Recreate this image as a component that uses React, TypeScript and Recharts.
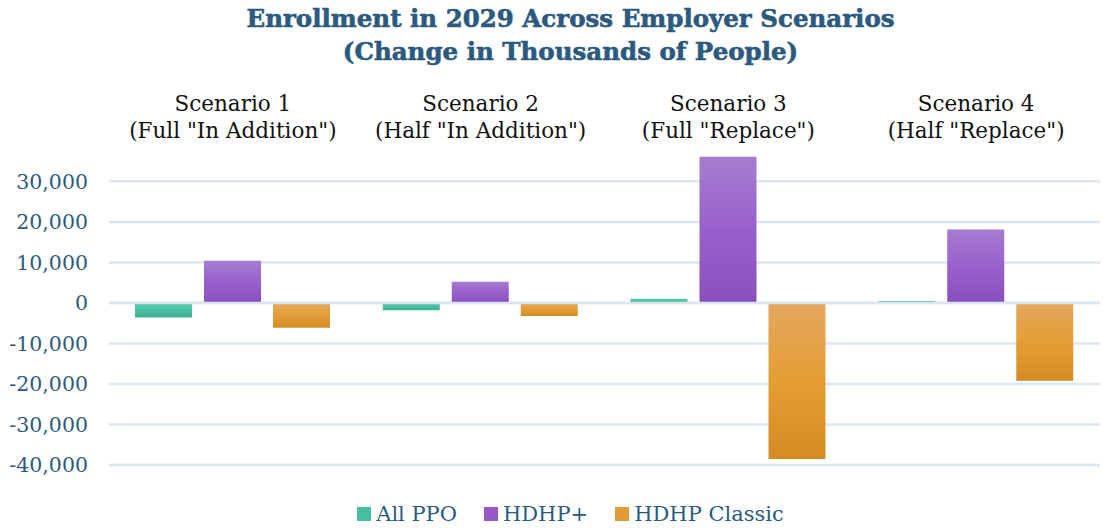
import { Bar, BarChart, CartesianGrid, ReferenceLine, XAxis, YAxis } from "recharts";

const NAVY = "#2C5A7E";
const GRID = "#DCE6F0";

const scenarios = ["Scenario 1", "Scenario 2", "Scenario 3", "Scenario 4"];
const subtitles = [
  '(Full "In Addition")',
  '(Half "In Addition")',
  '(Full "Replace")',
  '(Half "Replace")',
];
const allPpo = [-3600, -1800, 1000, 500];
const hdhpPlus = [10400, 5200, 36100, 18100];
const hdhpClassic = [-6100, -3200, -38500, -19200];
const yTicks = [-40000, -30000, -20000, -10000, 0, 10000, 20000, 30000];
const Y_MIN = -40000;
const Y_MAX = 37000;

const series = [
  { key: "allPpo", name: "All PPO", grad: "gTeal", swatch: "#47BE9F" },
  { key: "hdhpPlus", name: "HDHP+", grad: "gPurple", swatch: "#9558C6" },
  { key: "hdhpClassic", name: "HDHP Classic", grad: "gOrange", swatch: "#E39A34" },
];

const data = scenarios.map((s, i) => ({
  scenario: s,
  allPpo: allPpo[i],
  hdhpPlus: hdhpPlus[i],
  hdhpClassic: hdhpClassic[i],
}));

function ScenarioTick(props: any) {
  const { x, index } = props;
  const font = '"DejaVu Serif", serif';
  return (
    <g>
      <text x={x} y={111} textAnchor="middle" fontSize={21.5} fill="#111" fontFamily={font}>
        {scenarios[index]}
      </text>
      <text x={x} y={138} textAnchor="middle" fontSize={21.5} fill="#111" fontFamily={font}>
        {subtitles[index]}
      </text>
    </g>
  );
}

// grid only at the tick values, not at the plot's top edge
function gridRows({ offset }: any) {
  return yTicks.map(
    (t) => offset.top + ((Y_MAX - t) / (Y_MAX - Y_MIN)) * offset.height
  );
}

export default function App() {
  return (
    <div
      style={{
        position: "absolute",
        left: 0,
        top: 0,
        width: 1103,
        height: 529,
        background: "#fff",
        fontFamily: '"DejaVu Serif", serif',
      }}
    >
      <svg width={0} height={0} style={{ position: "absolute" }}>
        <defs>
          <linearGradient id="gTeal" x1="0" y1="0" x2="0" y2="1">
            <stop offset="0%" stopColor="#5ACBAE" />
            <stop offset="100%" stopColor="#3BB293" />
          </linearGradient>
          <linearGradient id="gPurple" x1="0" y1="0" x2="0" y2="1">
            <stop offset="0%" stopColor="#A67CD0" />
            <stop offset="50%" stopColor="#9960CC" />
            <stop offset="100%" stopColor="#8A4FBC" />
          </linearGradient>
          <linearGradient id="gOrange" x1="0" y1="0" x2="0" y2="1">
            <stop offset="0%" stopColor="#E3A75E" />
            <stop offset="50%" stopColor="#E59E35" />
            <stop offset="100%" stopColor="#D48B24" />
          </linearGradient>
        </defs>
      </svg>
      <div
        style={{
          position: "absolute",
          top: 2,
          left: 38,
          width: 1065,
          textAlign: "center",
          color: NAVY,
          fontWeight: "bold",
          fontSize: 24.5,
          lineHeight: "33px",
          WebkitTextStroke: "0.6px " + NAVY,
        }}
      >
        Enrollment in 2029 Across Employer Scenarios
        <br />
        (Change in Thousands of People)
      </div>
      <BarChart
        width={1103}
        height={529}
        data={data}
        margin={{ top: 0, right: 3, bottom: 64, left: 0 }}
        barCategoryGap={26}
        barGap={12}
        barSize={57}
      >
        <CartesianGrid
          vertical={false}
          stroke={GRID}
          strokeWidth={2.5}
          horizontalCoordinatesGenerator={gridRows}
        />
        <XAxis
          dataKey="scenario"
          orientation="top"
          height={153}
          axisLine={false}
          tickLine={false}
          tick={<ScenarioTick />}
          interval={0}
        />
        <YAxis
          width={109}
          domain={[Y_MIN, Y_MAX]}
          ticks={yTicks}
          allowDataOverflow
          axisLine={false}
          tickLine={false}
          tickMargin={15}
          tick={{ fontSize: 20.5, fill: NAVY, fontFamily: '"DejaVu Serif", serif' }}
          tickFormatter={(v: number) => v.toLocaleString("en-US")}
        />
        {series.map((s) => (
          <Bar
            key={s.key}
            dataKey={s.key}
            name={s.name}
            fill={`url(#${s.grad})`}
            isAnimationActive={false}
          />
        ))}
        <ReferenceLine y={0} stroke={GRID} strokeWidth={2.5} />
      </BarChart>
      <div
        style={{
          position: "absolute",
          top: 502,
          left: 38,
          width: 1065,
          display: "flex",
          justifyContent: "center",
          gap: 27,
          color: NAVY,
          fontSize: 21,
        }}
      >
        {series.map((s) => (
          <div key={s.key} style={{ display: "flex", alignItems: "center" }}>
            <span
              style={{
                display: "inline-block",
                width: 14,
                height: 14,
                background: s.swatch,
                marginRight: 5,
              }}
            />
            {s.name}
          </div>
        ))}
      </div>
    </div>
  );
}
